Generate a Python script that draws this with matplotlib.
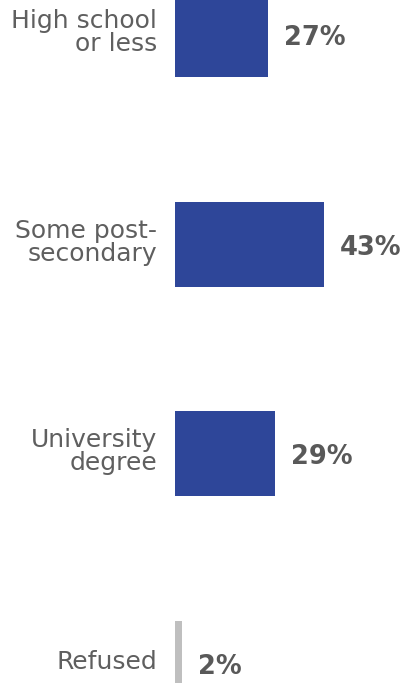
import matplotlib.pyplot as plt
import matplotlib.transforms as mtransforms
import numpy as np

# education categories and share of respondents (%)
categories = ["High school\nor less", "Some post-\nsecondary", "University\ndegree", "Refused"]
values = [27, 43, 29, 2]
colors = ["#2E4699", "#2E4699", "#2E4699", "#BFBFBF"]

W, H = 404, 683
fig = plt.figure(figsize=(W / 100, H / 100), dpi=100)

# axes starts where the bars start; 1% of value ~ 3.46 px
x0 = 175
ax = fig.add_axes([x0 / W, 0, (W - x0) / W, 1])
px_per_pct = 3.46
ax.set_xlim(0, (W - x0) / px_per_pct)

# bar centres at 34.5, 244.5, 453.5, 663.5 px from top
step = 209.67
ax.set_ylim(0 + (H - 34.5) / step, -34.5 / step)

y = np.arange(len(categories))
ax.barh(y, values, height=85 / step, color=colors)

for yi, v in zip(y, values):
    ax.text(v + 16 / px_per_pct, yi + 0.017, f"{v}%", va="center", ha="left",
            fontsize=18.5, fontweight="bold", color="#595959")

ax.set_yticks(y)
ax.set_yticklabels(categories, fontsize=18, color="#5f5f5f", linespacing=0.95)
ax.tick_params(axis="y", length=0, pad=13)
# nudge category labels up a few pixels
shift = mtransforms.ScaledTranslation(0, 4 / 100, fig.dpi_scale_trans)
for lbl in ax.get_yticklabels():
    lbl.set_transform(lbl.get_transform() + shift)
ax.set_xticks([])
for s in ax.spines.values():
    s.set_visible(False)

fig.savefig("out.png", dpi=100)
